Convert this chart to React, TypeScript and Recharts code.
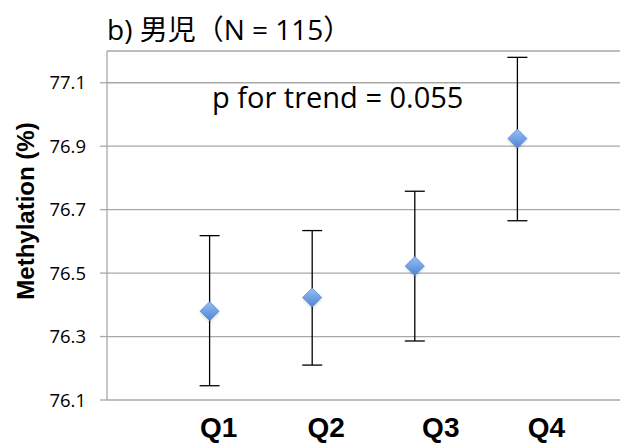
import React from 'react';
import { ScatterChart, Scatter, XAxis, YAxis, CartesianGrid, ErrorBar } from 'recharts';

const categories = ['Q1', 'Q2', 'Q3', 'Q4'];
const means = [76.38, 76.423, 76.522, 76.924];
const lower = [76.145, 76.21, 76.286, 76.665];
const upper = [76.618, 76.634, 76.758, 77.18];
const yTicks = [76.1, 76.3, 76.5, 76.7, 76.9, 77.1];
const xTicks = [1, 2, 3, 4];
const labelShift = [9, 14, 26, 29];

const titleText = 'b) 男児（N = 115）';
const trendText = 'p for trend = 0.055';
const yLabelText = 'Methylation (%)';

const data = categories.map((c, i) => ({
  x: i + 1,
  name: c,
  y: means[i],
  err: [means[i] - lower[i], upper[i] - means[i]],
}));

const GRID = '#a8a8a8';

const Diamond = (props: any) => {
  const { cx, cy } = props;
  if (cx == null || cy == null) return null;
  const r = 9.5;
  return (
    <g>
      <polygon
        points={`${cx},${cy - r + 1.5} ${cx + r},${cy + 1.5} ${cx},${cy + r + 1.5} ${cx - r},${cy + 1.5}`}
        fill="rgba(0,0,0,0.18)"
        filter="url(#blurShadow)"
      />
      <polygon
        points={`${cx},${cy - r} ${cx + r},${cy} ${cx},${cy + r} ${cx - r},${cy}`}
        fill="url(#diamondGrad)"
        stroke="#5a89cf"
        strokeWidth={0.8}
      />
    </g>
  );
};

const XTick = (props: any) => {
  const { x, y, payload, index } = props;
  const label = categories[(payload.value as number) - 1] ?? '';
  return (
    <text
      x={x + (labelShift[index] ?? 0)}
      y={y + 35}
      textAnchor="middle"
      fontFamily="'Liberation Sans', Arial, sans-serif"
      fontWeight="bold"
      fontSize={28}
      fill="#000"
    >
      {label}
    </text>
  );
};

export default function App() {
  return (
    <div style={{ position: 'relative', width: 624, height: 444, background: '#fff' }}>
      <style>{`body{margin:0;}`}</style>
      <ScatterChart width={624} height={444} margin={{ top: 51, right: 4, bottom: 0, left: 0 }}>
        <defs>
          <linearGradient id="diamondGrad" x1="0" y1="0" x2="0" y2="1">
            <stop offset="0%" stopColor="#9cc0f2" />
            <stop offset="55%" stopColor="#6c9fe3" />
            <stop offset="100%" stopColor="#4f84d2" />
          </linearGradient>
          <filter id="blurShadow" x="-50%" y="-50%" width="200%" height="200%">
            <feGaussianBlur stdDeviation="1.5" />
          </filter>
        </defs>
        <CartesianGrid vertical={false} stroke={GRID} strokeWidth={1.3} />
        <XAxis
          type="number"
          dataKey="x"
          domain={[0, 5]}
          ticks={xTicks}
          axisLine={false}
          tickLine={false}
          tickSize={0}
          tickMargin={2}
          height={44}
          tick={<XTick />}
          interval={0}
        />
        <YAxis
          type="number"
          dataKey="y"
          domain={[76.1, 77.2]}
          ticks={yTicks}
          allowDataOverflow
          width={107}
          axisLine={{ stroke: GRID, strokeWidth: 1.3 }}
          tickLine={{ stroke: GRID, strokeWidth: 1.3 }}
          tickSize={7}
          tickMargin={14}
          tick={{ fontSize: 18.5, fill: '#000', fontFamily: "'Open Sans', sans-serif" }}
          tickFormatter={(v: number) => v.toFixed(1)}
          interval={0}
        />
        <Scatter data={data} shape={<Diamond />} isAnimationActive={false}>
          <ErrorBar dataKey="err" direction="y" width={10} stroke="#000" strokeWidth={1.3} />
        </Scatter>
      </ScatterChart>
      <div
        style={{
          position: 'absolute',
          left: 107,
          top: 37,
          transform: 'translateY(-80%)',
          fontFamily: "'Open Sans', 'Noto Sans CJK JP', sans-serif",
          fontSize: 28,
          lineHeight: 1,
          whiteSpace: 'nowrap',
          color: '#000',
        }}
      >
        {titleText}
      </div>
      <div
        style={{
          position: 'absolute',
          left: 212,
          top: 98,
          transform: 'translateY(-55%)',
          fontFamily: "'Open Sans', sans-serif",
          fontSize: 29,
          lineHeight: 1,
          whiteSpace: 'nowrap',
          color: '#000',
        }}
      >
        {trendText}
      </div>
      <div
        style={{
          position: 'absolute',
          left: 26,
          top: 211,
          transform: 'translate(-50%, -50%) rotate(-90deg)',
          fontFamily: "'Liberation Sans', Arial, sans-serif",
          fontWeight: 'bold',
          fontSize: 24,
          lineHeight: 1,
          whiteSpace: 'nowrap',
          color: '#000',
        }}
      >
        {yLabelText}
      </div>
    </div>
  );
}
